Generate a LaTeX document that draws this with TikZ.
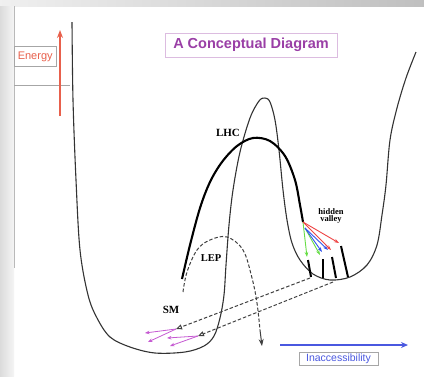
\documentclass[tikz,border=0pt]{standalone}
\usepackage{fontspec}
\setmainfont{Liberation Serif}
\setsansfont{Liberation Sans}
\usetikzlibrary{arrows.meta}
\definecolor{ered}{HTML}{E8604C}
\definecolor{ttlpurple}{HTML}{9A3FA6}
\definecolor{inblue}{HTML}{4A58E0}
\definecolor{svpurple}{HTML}{C65AD2}
\definecolor{hvgreen}{HTML}{66DD44}
\definecolor{hvblue}{HTML}{3355EE}
\definecolor{hvred}{HTML}{EE4444}
\begin{document}
\begin{tikzpicture}[x=1pt,y=-1pt,
  pot/.style={draw=black!80, line width=1.1pt},
  lhc/.style={draw=black, line width=2.1pt},
  lep/.style={draw=black!75, line width=1pt, dash pattern=on 3.5pt off 2pt},
  lbl/.style={font=\bfseries\fontsize{10.5}{11}\selectfont, inner sep=0pt},
  hv/.style={line width=0.9pt, -{Stealth[length=5pt,width=3.5pt]}},
  bar/.style={draw=black, line width=2pt},
  smarrow/.style={draw=svpurple, line width=0.8pt, -{Stealth[length=4.5pt,width=3.5pt]}},
  labelbox/.style={draw=gray!70, fill=white, font=\sffamily, inner sep=1pt}]
\useasboundingbox (0,0) rectangle (424,376);
\fill[white] (0,0) rectangle (424,376);
\shade[left color=gray!12, right color=gray!50] (0,0) rectangle (424,6);
\shade[left color=gray!28, right color=gray!8] (0,6) rectangle (14,376);
\draw[gray!55, line width=0.5pt] (14,6) -- (14,268);
\draw[gray!70, line width=0.6pt] (14,85) -- (70,85);

% Energy axis
\node[labelbox, anchor=north west, text=ered, minimum width=42pt, minimum height=20pt,
      font=\sffamily\fontsize{11}{12}\selectfont, text depth=0pt] (energy) at (14,46) {Energy};
\coordinate (ea) at (60,116);
\coordinate (eb) at (60,30);
\draw[ered, line width=1.7pt, -{Stealth[length=8pt,width=6pt]}] (ea) -- (eb);

% title
\node[draw=ttlpurple!35, fill=white, text=ttlpurple, font=\sffamily\bfseries\fontsize{14.5}{16}\selectfont,
      minimum width=172pt, minimum height=24pt, inner sep=0pt] (title) at (251,45) {A Conceptual Diagram};

% potential
\draw[pot] plot[smooth, tension=0.55] coordinates {
 (72,22) (73,100) (76,180) (80,250) (88,295) (97,318) (110,337) (130,347) (155,353) (185,352)
 (204,346) (214,336) (220,318) (224,295) (226,265) (229,225) (233,190) (240,152) (250,118)
 (259,101) (265,98) (270,102) (275,120) (279,150) (283,190) (287,220) (292,243) (300,260)
 (313,274) (330,280) (350,277) (367,265) (377,245) (382,215) (386,185) (390,140) (397,108)
 (406,78) (416,52)};

% LHC
\draw[lhc] plot[smooth, tension=0.55] coordinates {
 (182,279) (190,245) (200,208) (210,182) (222,162) (237,146) (253,138) (270,141) (285,156)
 (295,180) (300,205) (303,222)};
\node[lbl, font=\bfseries\fontsize{11}{12}\selectfont] (lhclabel) at (228,133) {LHC};

% LEP
\coordinate (lepend) at (262,346);
\draw[lep] plot[smooth, tension=0.6] coordinates {
 (183,292) (187,272) (197,250) (210,240) (227,237) (243,250) (252,278) (257,303) (260,330)};
\draw[lep, solid, -{Stealth[length=7pt,width=5pt]}] (260,330) -- (lepend);
\node[lbl] (leplabel) at (211,258) {LEP};

% hidden valley
\node[lbl, font=\bfseries\fontsize{8.5}{9}\selectfont, align=center] (hvlabel) at (331,216)
  {hidden\\[-1.5pt]valley};
\coordinate (s) at (303,222);
\coordinate (s2) at (305,228);
\coordinate (g1) at (307,257);
\coordinate (g2) at (320,255);
\coordinate (b1) at (322,252);
\coordinate (b2) at (328,250);
\coordinate (r1) at (331,250);
\coordinate (r2) at (339,243);
\draw[hv, hvgreen] (s) -- (g1);
\draw[hv, hvgreen] (s2) -- (g2);
\draw[hv, hvblue] (s2) -- (b1);
\draw[hv, hvblue] (s2) -- (b2);
\draw[hv, hvred] (s) -- (r1);
\draw[hv, hvred] (s) -- (r2);
\draw[bar] (308,260) -- (311,277);
\draw[bar] (323,259) -- (323,278);
\draw[bar] (332,257) -- (336,278);
\draw[bar] (341,246) -- (348,277);

% decays back to SM
\coordinate (d1s) at (310,278);
\coordinate (d1e) at (176,329);
\coordinate (d2s) at (333,282);
\coordinate (d2e) at (198,336);
\draw[lep, -{Triangle[open,length=6pt,width=5pt]}] (d1s) -- (d1e);
\draw[lep, -{Triangle[open,length=6pt,width=5pt]}] (d2s) -- (d2e);
\coordinate (p1) at (145,333);
\coordinate (p2) at (148,342);
\coordinate (p3) at (167,338);
\coordinate (p4) at (170,346);
\draw[smarrow] (d1e) -- (p1);
\draw[smarrow] (d1e) -- (p2);
\draw[smarrow] (d2e) -- (p3);
\draw[smarrow] (d2e) -- (p4);
\node[lbl, font=\bfseries\fontsize{11}{12}\selectfont] (smlabel) at (171,310) {SM};

% inaccessibility
\coordinate (ia) at (280,345);
\coordinate (ib) at (408,345);
\draw[inblue, line width=1.6pt, -{Stealth[length=7pt,width=6pt]}] (ia) -- (ib);
\node[labelbox, text=inblue, font=\sffamily\fontsize{10.5}{11}\selectfont, minimum width=79pt,
      minimum height=13pt] (inacc) at (338.5,358.5) {Inaccessibility};
\end{tikzpicture}
\end{document}
